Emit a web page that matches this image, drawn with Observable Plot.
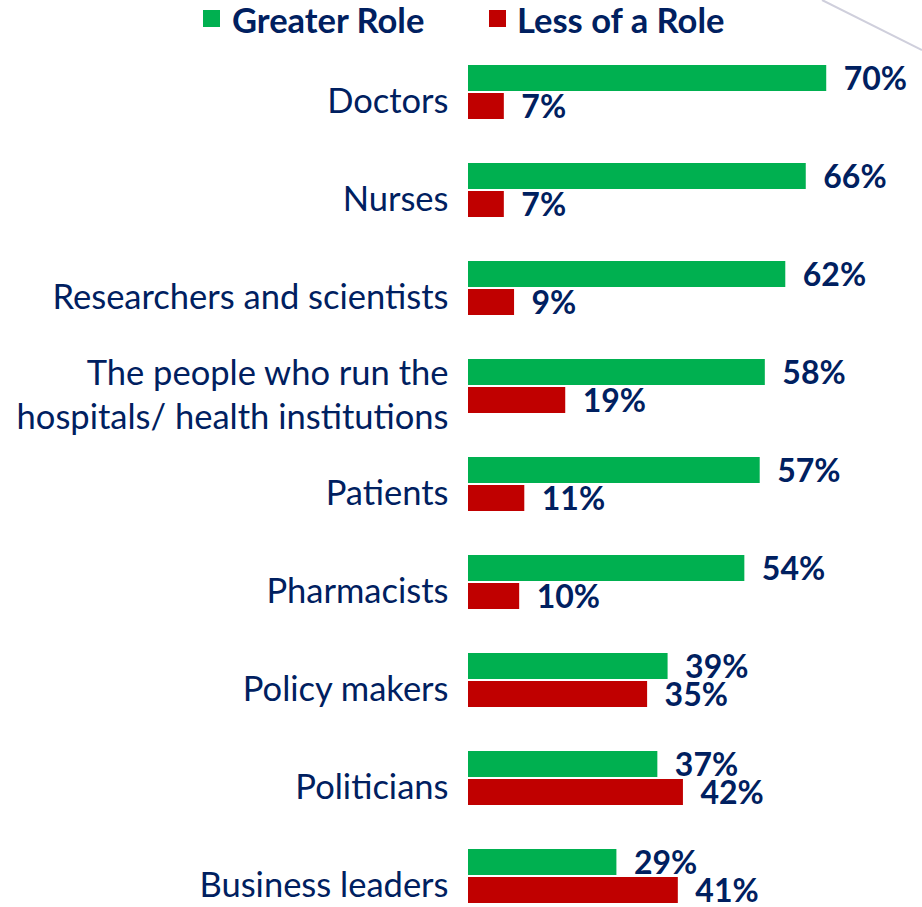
<!DOCTYPE html>
<html>
<head>
<meta charset="utf-8">
<script src="https://cdn.jsdelivr.net/npm/d3@7"></script>
<script src="https://cdn.jsdelivr.net/npm/@observablehq/plot@0.6"></script>
<style>
  html, body { margin: 0; padding: 0; background: #fff; overflow: hidden; }
  #wrap { position: relative; width: 922px; height: 907px; }
  #legend { position: relative; height: 45px; font-family: Lato, sans-serif; font-weight: bold; font-size: 34.5px; color: #002060; }
  .sw { position: absolute; top: 10px; width: 17px; height: 17px; }
  .lt { position: absolute; top: 1px; line-height: 38px; white-space: nowrap; }
  #deco { position: absolute; left: 0; top: 0; pointer-events: none; }
  #chart svg { display: block; }
</style>
</head>
<body>
<div id="wrap">
  <div id="legend"></div>
  <div id="chart"></div>
  <svg id="deco" width="922" height="907"><line x1="822" y1="0" x2="922" y2="50" stroke="#cfcfdc" stroke-width="2"/></svg>
</div>
<script>
const categories = [
  "Doctors",
  "Nurses",
  "Researchers and scientists",
  "The people who run the\nhospitals/ health institutions",
  "Patients",
  "Pharmacists",
  "Policy makers",
  "Politicians",
  "Business leaders"
];
const series = ["Greater Role", "Less of a Role"];
const greaterRole = [70, 66, 62, 58, 57, 54, 39, 37, 29];
const lessRole = [7, 7, 9, 19, 11, 10, 35, 42, 41];
const colors = ["#00B050", "#C00000"];

const rows = [];
categories.forEach((c, i) => {
  rows.push({category: c, series: series[0], value: greaterRole[i]});
  rows.push({category: c, series: series[1], value: lessRole[i]});
});

// legend
const legend = document.getElementById("legend");
const legendPos = [[203, 232], [489, 517]];
series.forEach((s, i) => {
  const sw = document.createElement("div");
  sw.className = "sw";
  sw.style.left = legendPos[i][0] + "px";
  sw.style.background = colors[i];
  legend.appendChild(sw);
  const t = document.createElement("div");
  t.className = "lt";
  t.style.left = legendPos[i][1] + "px";
  t.textContent = s;
  legend.appendChild(t);
});

const navy = "#002060";
const chart = Plot.plot({
  width: 922,
  height: 862,
  marginLeft: 468,
  marginRight: 44.6,
  marginTop: 18,
  marginBottom: 2,
  style: {fontFamily: "Lato, sans-serif", background: "white", overflow: "visible"},
  x: {domain: [0, 80], axis: null},
  y: {domain: series, axis: null, paddingInner: 0.074, paddingOuter: 0},
  fy: {domain: categories, axis: null, paddingInner: 0.452, paddingOuter: 0},
  color: {domain: series, range: colors},
  marks: [
    Plot.barX(rows, {fy: "category", y: "series", x: "value", fill: "series"}),
    Plot.text(rows, {
      fy: "category", y: "series", x: "value",
      text: d => d.value + "%",
      textAnchor: "start", dx: 17, dy: 1,
      fontWeight: "bold", fontSize: 32, fill: navy
    }),
    Plot.text(categories, {
      fy: d => d, text: d => d,
      frameAnchor: "left", textAnchor: "end", dx: -20, dy: 6,
      fontSize: 34.5, lineHeight: 1.28, fill: navy
    })
  ]
});
document.getElementById("chart").appendChild(chart);
</script>
</body>
</html>
